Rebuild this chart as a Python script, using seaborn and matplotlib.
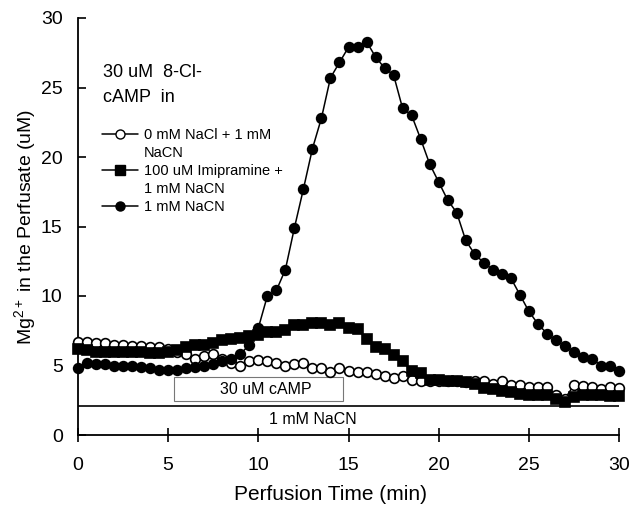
import matplotlib
matplotlib.use('Agg')
import matplotlib.pyplot as plt
from matplotlib.lines import Line2D
from matplotlib.patches import Rectangle
import numpy as np
import seaborn as sns

# perfusion time, sampled every 0.5 min
time_min = np.arange(0, 30.01, 0.5)

# 0 mM NaCl + 1 mM NaCN (open circles)
mg_open = [6.7, 6.7, 6.6, 6.6, 6.5, 6.5, 6.4, 6.4, 6.3, 6.3,
           6.2, 6.0, 5.8, 5.5, 5.7, 5.8, 5.5, 5.2, 5.0, 5.3,
           5.4, 5.35, 5.2, 5.0, 5.1, 5.2, 4.8, 4.8, 4.55, 4.8,
           4.6, 4.55, 4.55, 4.4, 4.25, 4.1, 4.25, 3.95, 3.9, 3.9,
           3.9, 3.85, 3.85, 3.8, 3.85, 3.85, 3.7, 3.85, 3.6, 3.6,
           3.45, 3.45, 3.45, 2.9, 2.6, 3.6, 3.5, 3.45, 3.3, 3.45,
           3.4]

# 100 uM imipramine + 1 mM NaCN (filled squares)
mg_imip = [6.2, 6.1, 6.0, 6.0, 6.0, 6.0, 5.95, 5.95, 5.9, 5.9,
           5.95, 6.1, 6.3, 6.5, 6.5, 6.6, 6.8, 6.9, 7.0, 7.1,
           7.2, 7.4, 7.4, 7.55, 7.9, 7.9, 8.05, 8.05, 7.9, 8.05,
           7.7, 7.6, 6.9, 6.3, 6.2, 5.75, 5.3, 4.6, 4.45, 3.95,
           3.95, 3.9, 3.85, 3.8, 3.7, 3.4, 3.3, 3.2, 3.1, 2.95,
           2.9, 2.9, 2.85, 2.6, 2.4, 2.7, 2.85, 2.85, 2.85, 2.8,
           2.8]

# 1 mM NaCN (filled circles)
mg_nacn = [4.8, 5.2, 5.1, 5.1, 5.0, 5.0, 5.0, 4.9, 4.8, 4.7,
           4.7, 4.7, 4.8, 4.9, 5.0, 5.1, 5.3, 5.5, 5.8, 6.5,
           7.7, 10.0, 10.4, 11.9, 14.9, 17.7, 20.6, 22.8, 25.7, 26.8,
           27.9, 27.9, 28.3, 27.2, 26.4, 25.9, 23.5, 23.0, 21.3, 19.5,
           18.2, 16.9, 16.0, 14.0, 13.0, 12.4, 11.9, 11.6, 11.3, 10.1,
           8.9, 8.0, 7.3, 6.8, 6.4, 6.0, 5.6, 5.5, 5.0, 5.0,
           4.6]

series_labels = [['0 mM NaCl + 1 mM', 'NaCN'],
                 ['100 uM Imipramine +', '1 mM NaCN'],
                 ['1 mM NaCN']]

# treatment bars (min)
camp_period = (5.3, 14.7)
nacn_period = (0, 30)

sns.set_theme(style='ticks')
plt.rcParams['font.family'] = ['Liberation Sans', 'DejaVu Sans']
plt.rcParams['mathtext.fontset'] = 'custom'
plt.rcParams['mathtext.rm'] = 'Liberation Sans'
plt.rcParams['mathtext.it'] = 'Liberation Sans:italic'
plt.rcParams['text.color'] = 'black'
plt.rcParams['axes.labelcolor'] = 'black'
plt.rcParams['xtick.color'] = 'black'
plt.rcParams['ytick.color'] = 'black'

fig = plt.figure(figsize=(6.31, 5.08), dpi=100)
ax = fig.add_axes([78 / 631, 1 - 435 / 508, 541 / 631, 417 / 508])

# cAMP box and NaCN line
ax.add_patch(Rectangle((camp_period[0], 2.45), camp_period[1] - camp_period[0], 1.75,
                       facecolor='white', edgecolor='#777777', linewidth=0.8, zorder=1))
ax.text(10.4, 3.3, '30 uM cAMP', ha='center', va='center', fontsize=11.5)
ax.hlines(2.1, nacn_period[0], nacn_period[1], color='black', linewidth=1.2, clip_on=False)
ax.text(13.0, 1.1, '1 mM NaCN', ha='center', va='center', fontsize=11.5)

common = dict(ax=ax, color='black', linewidth=1.1, markeredgecolor='black',
              markeredgewidth=1.2, clip_on=False, legend=False)
sns.lineplot(x=time_min, y=mg_open, marker='o', markersize=7,
             markerfacecolor='white', zorder=3, **common)
sns.lineplot(x=time_min, y=mg_imip, marker='s', markersize=7,
             markerfacecolor='black', zorder=4, **common)
sns.lineplot(x=time_min, y=mg_nacn, marker='o', markersize=7,
             markerfacecolor='black', zorder=5, **common)

ax.set_xlim(0, 30)
ax.set_ylim(0, 30)
ax.set_xticks(range(0, 31, 5))
ax.set_yticks(range(0, 31, 5))
ax.tick_params(axis='x', direction='inout', length=10, width=1.2, pad=11, labelsize=14)
ax.tick_params(axis='y', direction='in', length=6, width=1.2, pad=11, labelsize=14)
for s in ['top', 'right']:
    ax.spines[s].set_visible(False)
for s in ['left', 'bottom']:
    ax.spines[s].set_linewidth(1.3)
    ax.spines[s].set_color('black')

ax.set_xlabel('Perfusion Time (min)', fontsize=15)
ax.xaxis.set_label_coords(0.466, -0.12)
ax.set_ylabel(r'Mg$^{2+}$ in the Perfusate (uM)', fontsize=14)
ax.yaxis.set_label_coords(-0.074, 0.5)

fig.text(103 / 631, 1 - 64 / 508, '30 uM  8-Cl-\ncAMP  in', ha='left', va='top',
         fontsize=13, linespacing=1.65)

# legend: first text line sits next to the marker, second line below it
lines = ax.get_lines()
blank = Line2D([], [], linestyle='none')
handles, labels = [], []
for ln, lab in zip(lines, series_labels):
    h = Line2D([], [], color='black', linewidth=1.1, marker=ln.get_marker(),
               markersize=6.5, markerfacecolor=ln.get_markerfacecolor(),
               markeredgecolor='black')
    handles.append(h)
    labels.append(lab[0])
    for extra in lab[1:]:
        handles.append(blank)
        labels.append(extra)
fig.legend(handles, labels, loc='upper left', bbox_to_anchor=(102 / 631, 1 - 128 / 508),
           frameon=False, fontsize=10.5, handlelength=2.5, handletextpad=0.35,
           labelspacing=0.28, borderpad=0, borderaxespad=0)

fig.savefig('out.png', dpi=100)
